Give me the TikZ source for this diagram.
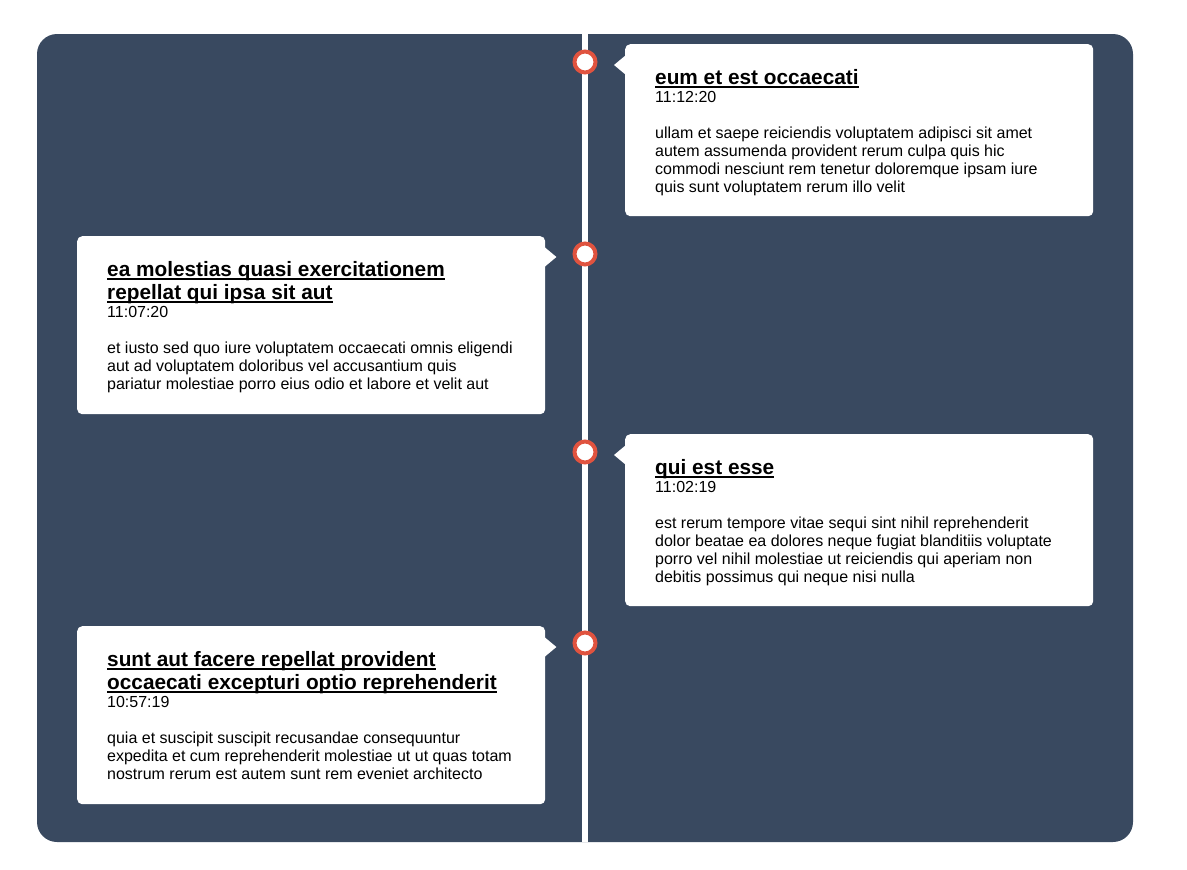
\documentclass[tikz,border=0pt]{standalone}
\usepackage{fontspec}
\setmainfont{Liberation Sans}
\definecolor{bgslate}{HTML}{394960}
\definecolor{ringred}{HTML}{E0533F}
\newcommand\ttlfont{\fontsize{20.8}{24}\selectfont\bfseries}
\newcommand\txtfont{\fontsize{16}{18}\selectfont}
\tikzset{
  card/.style={fill=white, rounded corners=5pt, minimum width=468pt, anchor=north west, inner sep=0pt, draw=none},
  ttl/.style={anchor=base west, inner sep=0pt, font=\ttlfont, text=black},
  txt/.style={anchor=base west, inner sep=0pt, font=\txtfont, text=black},
  uline/.style={line width=1.8pt, black},
  dot/.style={circle, draw=ringred, line width=4pt, fill=white, minimum size=21pt, inner sep=0pt},
  pointer/.style={fill=white, draw=none},
}
\begin{document}
\begin{tikzpicture}[x=1pt,y=-1pt]
\useasboundingbox (0,0) rectangle (1187,870);
% background panel
\fill[bgslate, rounded corners=20pt] (37,34) rectangle (1133,842);
% timeline
\coordinate (ltop) at (585,34);
\coordinate (lbot) at (585,842);
\draw[white, line width=6pt] (ltop) -- (lbot);

% cards
\node[card, minimum height=172pt] (c1) at (625,44) {};
\node[card, minimum height=178pt] (c2) at (77,236) {};
\node[card, minimum height=172pt] (c3) at (625,434) {};
\node[card, minimum height=178pt] (c4) at (77,626) {};

% pointers
\fill[pointer] ([xshift=1pt,yshift=-11pt]c1.north west) -- ++(-12,10) -- ++(12,10) -- cycle;
\fill[pointer] ([xshift=-1pt,yshift=-11pt]c2.north east) -- ++(12,10) -- ++(-12,10) -- cycle;
\fill[pointer] ([xshift=1pt,yshift=-11pt]c3.north west) -- ++(-12,10) -- ++(12,10) -- cycle;
\fill[pointer] ([xshift=-1pt,yshift=-11pt]c4.north east) -- ++(12,10) -- ++(-12,10) -- cycle;

% dots
\node[dot] (d1) at (585,62) {};
\node[dot] (d2) at (585,254) {};
\node[dot] (d3) at (585,452) {};
\node[dot] (d4) at (585,643) {};

% card 1
\node[ttl] (t1a) at (655,84) {eum et est occaecati};
\draw[uline] ([yshift=-3pt]t1a.base west) -- ([yshift=-3pt]t1a.base east);
\node[txt] (m1) at (655,102) {11:12:20};
\node[txt] (b1a) at (655,138.5) {ullam et saepe reiciendis voluptatem adipisci sit amet};
\node[txt] (b1b) at (655,156.5) {autem assumenda provident rerum culpa quis hic};
\node[txt] (b1c) at (655,174.5) {commodi nesciunt rem tenetur doloremque ipsam iure};
\node[txt] (b1d) at (655,192.5) {quis sunt voluptatem rerum illo velit};

% card 2
\node[ttl] (t2a) at (107,276) {ea molestias quasi exercitationem};
\draw[uline] ([yshift=-3pt]t2a.base west) -- ([yshift=-3pt]t2a.base east);
\node[ttl] (t2b) at (107,299) {repellat qui ipsa sit aut};
\draw[uline] ([yshift=-3pt]t2b.base west) -- ([yshift=-3pt]t2b.base east);
\node[txt] (m2) at (107,317) {11:07:20};
\node[txt] (b2a) at (107,353.5) {et iusto sed quo iure voluptatem occaecati omnis eligendi};
\node[txt] (b2b) at (107,371.5) {aut ad voluptatem doloribus vel accusantium quis};
\node[txt] (b2c) at (107,389.5) {pariatur molestiae porro eius odio et labore et velit aut};

% card 3
\node[ttl] (t3a) at (655,474) {qui est esse};
\draw[uline] ([yshift=-3pt]t3a.base west) -- ([yshift=-3pt]t3a.base east);
\node[txt] (m3) at (655,492) {11:02:19};
\node[txt] (b3a) at (655,528.5) {est rerum tempore vitae sequi sint nihil reprehenderit};
\node[txt] (b3b) at (655,546.5) {dolor beatae ea dolores neque fugiat blanditiis voluptate};
\node[txt] (b3c) at (655,564.5) {porro vel nihil molestiae ut reiciendis qui aperiam non};
\node[txt] (b3d) at (655,582.5) {debitis possimus qui neque nisi nulla};

% card 4
\node[ttl] (t4a) at (107,666) {sunt aut facere repellat provident};
\draw[uline] ([yshift=-3pt]t4a.base west) -- ([yshift=-3pt]t4a.base east);
\node[ttl] (t4b) at (107,689) {occaecati excepturi optio reprehenderit};
\draw[uline] ([yshift=-3pt]t4b.base west) -- ([yshift=-3pt]t4b.base east);
\node[txt] (m4) at (107,707) {10:57:19};
\node[txt] (b4a) at (107,743.5) {quia et suscipit suscipit recusandae consequuntur};
\node[txt] (b4b) at (107,761.5) {expedita et cum reprehenderit molestiae ut ut quas totam};
\node[txt] (b4c) at (107,779.5) {nostrum rerum est autem sunt rem eveniet architecto};
\end{tikzpicture}
\end{document}
